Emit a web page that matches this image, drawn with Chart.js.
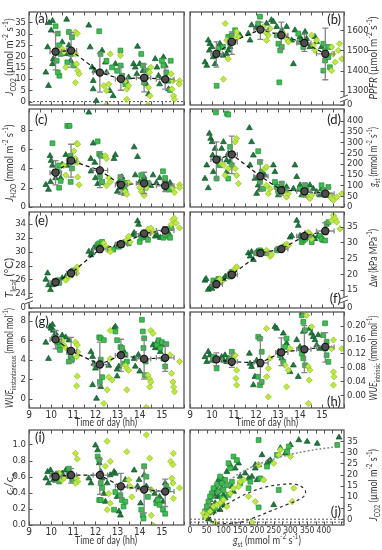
<!DOCTYPE html>
<html><head><meta charset="utf-8">
<script src="https://cdn.jsdelivr.net/npm/chart.js@4.4.0/dist/chart.umd.min.js"></script>
<style>
html,body{margin:0;padding:0;background:#fff;}
#wrap{position:relative;width:382px;height:550px;background:#fff;}
#wrap canvas{position:absolute;left:0;top:0;}
</style></head><body><div id="wrap"></div>
<script>
// ---------------- DATA ----------------
const TIME_TICKS = [9,10,11,12,13,14,15];
const TIME_LABELS = ['9','10','11','12','13','14','15'];
const TIME_MARKS = [9,9.5,10,10.5,11,11.5,12,12.5,13,13.5,14,14.5,15,15.5,16];
const MEAN_T = [10.2,10.9,12.2,13.15,14.2,15.15];
const MEAN_T_LO = [9.95,10.7,11.9,12.9,13.85,14.75];
const MEAN_T_HI = [10.47,11.15,12.55,13.45,14.5,15.55];

// (a) J_CO2
const A_TRI = [[9.91,34.7],[10.06,35.6],[10.7,36.2],[9.84,24],[9.76,12.9],[9.88,7],[10.0,31.4],[10.06,16.6],[10.1,18.8],[10.5,26.2],[10.66,21],[10.8,24.8],[10.88,18],[11.7,33.6],[11.76,24],[11.85,15.1],[11.9,9.2],[11.9,5.5],[11.97,13.6],[12.04,0.3],[12.3,22.5],[12.45,17.3],[12.5,12.9],[12.65,4.8],[12.8,2.5],[12.9,16.6],[13.42,8.4],[13.5,10.7],[13.72,16.6],[13.8,15.1],[13.87,12.2],[13.9,24.3],[14.0,16.6],[14.15,13.6],[14.3,7.7],[14.4,3.3],[14.7,18.8],[14.78,15.1],[14.85,11.4],[14.9,7.7],[15.07,19.6],[15.15,15.9],[15.2,10.7],[15.3,5.5]];
const A_SQ = [[10.2,33.2],[10.3,30],[10.36,24.8],[10.43,21],[10.25,18],[10.37,11.4],[10.3,12.9],[10.8,30.7],[10.94,28.4],[10.9,21],[10.73,17.3],[11.03,15.9],[12.17,31],[12.23,21],[12.5,18],[12.75,15.1],[12.98,13.6],[13.13,22.5],[13.2,11.4],[13.3,9.2],[13.35,7.7],[13.14,15.9],[14.07,21],[14.15,15.9],[14.27,10.7],[14.37,13.6],[14.2,8.4],[15.0,18],[15.07,15.9],[15.2,12.9],[15.3,9.2],[15.37,5.1],[15.4,18]];
const A_DIA = [[10.5,23.3],[10.57,21.8],[10.66,15.1],[10.94,22.5],[11.1,30.7],[11.18,30],[11.1,21],[11.15,16.6],[11.2,13.6],[11.26,12.2],[11.1,8.4],[12.38,7],[12.5,4.8],[12.6,7.7],[12.67,21],[12.5,-1.5],[13.13,20.3],[13.35,9.2],[13.42,5.5],[13.5,7],[13.42,1],[14.44,12.9],[14.4,6.2],[14.47,2.5],[14.37,-1.5],[14.5,15.1],[15.42,12.2],[15.5,9.2],[15.46,5.5],[15.53,2.5],[15.57,1],[15.8,9.2],[15.78,7.7]];
const A_MEAN = [22,22.5,12.8,10,10.5,9.8];
const A_LO = [14,15.2,4.2,5,4.3,5.5];
const A_HI = [30.4,30.4,21.3,15.3,16.5,15];
const A_YT = [0,5,10,15,20,25,30,35];
const A_YL = ['0','5','10','15','20','25','30','35'];

// (b) PPFR
const B_TRI = [[9.68,1442],[9.76,1425],[9.83,1550],[9.9,1533],[9.88,1500],[10,1517],[10.06,1467],[10.14,1433],[10.36,1533],[10.44,1517],[10.5,1475],[10.66,1483],[10.74,1500],[10.82,1517],[11.27,1575],[11.65,1583],[11.73,1550],[11.8,1625],[12.03,1617],[12.48,1633],[12.7,1650],[12.79,1642],[12.94,1617],[13.17,1600],[13.39,1617],[13.62,1550],[13.7,1433],[13.77,1600],[14.0,1567],[14.08,1550],[14.23,1592],[14.3,1558],[14.45,1517],[14.68,1567],[14.76,1542],[14.98,1517]];
const B_SQ = [[10.21,1325],[10.29,1508],[10.5,1517],[10.74,1567],[10.9,1575],[10.97,1542],[11.05,1600],[12.18,1667],[12.1,1633],[12.26,1600],[12.94,1575],[13.02,1533],[13.1,1500],[13.06,1342],[13.17,1517],[13.92,1583],[14.0,1542],[14.15,1517],[15.06,1533],[15.14,1500],[15.14,1450],[15.06,1400],[15.29,1517],[15.29,1467],[15.36,1417]];
const B_DIA = [[10.52,1358],[10.6,1633],[10.67,1550],[10.74,1458],[11.12,1592],[11.2,1567],[11.05,1558],[12.33,1617],[12.41,1592],[12.48,1550],[12.56,1575],[12.64,1608],[13.24,1583],[13.39,1558],[13.47,1542],[14.53,1575],[14.6,1525],[14.68,1500],[14.76,1550],[15.44,1517],[15.5,1483],[15.6,1442],[15.44,1400],[15.74,1500],[15.9,1458],[15.8,1533]];
const B_MEAN = [1483,1542,1603,1575,1537,1483];
const B_LO = [1417,1480,1555,1505,1495,1355];
const B_HI = [1542,1592,1640,1640,1580,1610];
const B_YT = [1230,1300,1400,1500,1600];
const B_YL = ['0','1300','1400','1500','1600'];

// (c) J_H2O
const C_TRI = [[9.76,2.3],[9.88,1.8],[9.95,5.3],[10.0,4.8],[9.97,2.6],[10.06,4.3],[10.1,3.6],[10.2,3.0],[10.43,3.0],[10.5,4.4],[10.66,5.4],[10.73,4.3],[10.8,5.0],[11.7,9.8],[11.79,5.0],[11.9,6.6],[11.97,4.6],[11.8,3.7],[12.0,3.0],[12.1,2.4],[12.24,2.5],[12.84,5.0],[12.9,5.4],[12.99,1.6],[13.06,2.6],[13.1,2.0],[13.2,3.1],[13.3,1.4],[13.75,6.2],[13.9,5.2],[13.8,3.3],[14.0,2.6],[14.2,3.1],[14.3,2.5],[14.5,2.2],[14.6,3.3],[14.75,2.5],[14.9,3.0],[15.15,2.8],[15.2,1.8],[15.37,2.5]];
const C_SQ = [[10.06,6.6],[10.3,3.7],[10.36,4.3],[10.43,2.7],[10.36,2.0],[10.73,8.4],[10.83,8.4],[10.88,5.3],[10.94,4.0],[11.03,4.7],[10.88,2.6],[12.1,6.8],[12.17,5.5],[12.24,5.3],[12.2,3.2],[12.3,2.6],[13.13,3.1],[13.2,2.6],[13.3,2.0],[13.35,1.6],[13.42,2.5],[14.07,3.3],[14.15,2.6],[14.27,2.0],[14.37,2.5],[15.05,3.7],[15.15,3.0],[15.25,2.2],[15.33,1.8]];
const C_DIA = [[10.57,4.3],[10.66,3.3],[11.03,5.8],[11.15,6.6],[11.2,6.5],[11.1,5.0],[11.18,4.6],[11.2,3.1],[11.26,2.3],[12.45,5.3],[12.5,5.0],[12.6,3.0],[12.67,2.6],[12.5,2.2],[13.35,1.6],[13.42,1.3],[13.5,2.5],[14.0,2.0],[14.07,1.6],[14.15,1.4],[14.2,1.2],[14.3,2.0],[15.5,2.0],[15.57,1.5],[15.8,2.3],[15.8,2.0]];
const C_MEAN = [3.56,4.8,3.8,2.3,2.45,2.2];
const C_LO = [2.3,3.1,2.0,1.3,1.4,1.6];
const C_HI = [4.8,6.5,5.7,3.2,3.6,2.8];
const C_YT = [0,2,4,6,8];
const C_YL = ['0','2','4','6','8'];

// (d) g_st
const D_TRI = [[9.68,132],[9.76,194],[9.83,88],[9.88,341],[9.94,318],[10,302],[10.03,240],[10.06,163],[10.14,271],[10.44,271],[10.52,302],[10.67,163],[10.67,217],[10.74,248],[10.82,209],[11.7,367],[11.73,194],[11.8,302],[11.88,240],[11.95,132],[12.03,62],[12.1,101],[12.18,85],[12.4,147],[12.79,194],[12.86,163],[12.94,101],[13.02,55],[13.24,85],[13.39,93],[13.7,85],[13.77,194],[13.85,140],[14,101],[14.08,55],[14.23,78],[14.3,55],[14.45,101],[14.6,85],[14.76,70],[14.9,55],[14.98,85]];
const D_SQ = [[10.18,439],[10.29,225],[10.21,132],[10.36,194],[10.67,434],[10.74,429],[10.82,279],[10.9,194],[10.74,132],[12.1,259],[12.18,209],[12.26,163],[12.18,116],[12.33,85],[12.86,116],[12.94,93],[13.02,70],[13.17,109],[13.32,78],[14,85],[14.15,62],[14.23,101],[14.3,78],[14.98,101],[15.06,78],[15.18,62],[15.29,93],[15.36,55]];
const D_DIA = [[10.44,201],[10.52,194],[10.59,147],[10.74,178],[11.05,302],[11.12,318],[11.05,178],[11.12,147],[11.2,109],[12.4,178],[12.48,186],[12.48,101],[12.56,62],[12.64,85],[13.24,70],[13.39,46],[13.47,62],[14.38,46],[14.45,39],[14.53,55],[15.36,55],[15.44,39],[15.52,31],[15.67,46],[15.9,62]];
const D_MEAN = [220,244,143,78,73,62];
const D_LO = [132,155,73,55,47,45];
const D_HI = [302,329,217,115,112,90];
const D_YT = [0,50,100,150,200,250,300,350,400];
const D_YL = ['0','50','100','150','200','250','300','350','400'];

// (e) T_leaf
const E_TRI = [[9.76,26.0],[9.84,26.9],[9.88,25.2],[9.97,24.5],[10.06,25.2],[10.1,25.7],[10.5,26.2],[10.66,26.4],[10.8,26.6],[10.88,27.1],[11.7,30.0],[11.79,29.5],[11.85,29.8],[11.93,30.5],[12.0,30.7],[12.24,31.0],[12.9,30.7],[12.99,31.0],[13.13,31.2],[13.7,32.4],[13.75,32.7],[13.9,34.4],[13.95,33.9],[14.04,32.4],[14.33,32.0],[14.7,32.2],[14.78,32.4],[14.93,32.0],[15.2,32.4],[15.3,32.7]];
const E_SQ = [[10.2,25.7],[10.3,25.9],[10.36,25.5],[10.88,26.6],[10.94,27.1],[11.03,27.3],[12.1,31.0],[12.17,31.2],[12.24,30.7],[12.3,31.4],[12.8,30.3],[13.06,30.7],[13.2,31.0],[13.35,31.4],[13.5,31.2],[14.0,31.4],[14.07,32.0],[14.15,32.2],[14.2,32.4],[14.37,31.7],[15.07,32.0],[15.15,32.4],[15.3,32.2],[15.37,32.0],[15.42,33.4]];
const E_DIA = [[10.66,25.9],[10.8,26.4],[11.1,27.3],[11.18,27.8],[11.15,26.9],[12.38,31.2],[12.45,30.7],[12.53,30.3],[12.6,30.5],[12.67,30.0],[13.42,31.7],[13.5,32.2],[13.57,31.4],[14.37,33.2],[14.45,32.7],[14.5,33.4],[14.6,32.9],[15.42,33.9],[15.5,34.6],[15.57,34.8],[15.65,34.1],[15.8,33.4]];
const E_MEAN = [25.6,26.9,30.35,31.07,32.6,33.05];
const E_LO = [25.2,26.5,30.0,30.7,32.1,32.5];
const E_HI = [26.0,27.3,30.7,31.4,33.1,33.6];
const E_YT = [21.9,24,26,28,30,32,34];
const E_YL = ['0','24','26','28','30','32','34'];

// (f) delta w
const F_TRI = [[9.68,18.0],[9.73,18.5],[9.83,15.1],[9.91,15.8],[10,15.4],[10.06,17.1],[10.52,18.4],[10.6,19.2],[10.74,19.8],[10.82,20.0],[11.65,26.6],[11.73,25.6],[11.8,27.0],[11.88,24.5],[12.03,27.0],[13.09,27.5],[13.24,28.5],[13.55,31.6],[13.62,32.1],[13.85,36.9],[13.92,35.3],[14,32.1],[14.08,31.6],[14.23,32.7],[14.6,31.6],[14.68,31.1],[14.83,32.1],[14.98,31.6],[15.06,30.6]];
const F_SQ = [[10.06,18],[10.14,16.5],[10.21,17.6],[10.29,18.5],[10.82,19.2],[10.9,20.7],[10.97,20.2],[12.03,26.6],[12.18,27.5],[12.26,27.0],[12.48,26.6],[12.94,27.5],[13.02,28.0],[13.24,28.5],[13.39,29.0],[14.08,30.1],[14.15,30.6],[14.23,31.1],[14.45,31.6],[14.53,30.1],[14.9,32.1],[14.98,31.1],[15.14,30.6],[15.21,35.8],[15.29,36.4]];
const F_DIA = [[10.36,18.4],[10.44,17.6],[10.97,20.7],[11.05,21.7],[11.12,22.3],[12.48,27.5],[12.56,26.6],[12.64,25.6],[12.71,26.1],[13.32,28.5],[13.39,29.5],[13.47,29.0],[14.3,32.1],[14.38,33.2],[14.45,32.7],[14.53,31.1],[15.44,36.9],[15.52,38.5],[15.6,37.5],[15.67,36.4],[15.82,34.3]];
const F_MEAN = [16.8,19.8,26.6,27.9,32.0,33.6];
const F_LO = [16.2,19.2,25.8,27.3,31.2,32.5];
const F_HI = [17.5,20.4,27.4,28.5,32.8,36.2];
const F_YT = [9.3,15,20,25,30,35];
const F_YL = ['0','15','20','25','30','35'];

// (g) WUE instantaneous
const G_TRI = [[9.76,5.77],[9.88,4.1],[9.95,7.4],[10.0,7.2],[10.06,7.6],[10.1,7.0],[10.2,6.7],[10.43,5.8],[10.5,6.5],[10.66,6.3],[10.8,6.0],[11.8,4.8],[11.87,4.3],[11.93,3.6],[12.0,3.1],[11.87,1.4],[12.05,0.0],[12.24,1.2],[12.6,3.4],[12.84,7.2],[12.9,7.4],[12.98,3.0],[13.06,3.3],[12.98,2.3],[13.3,4.8],[13.75,4.1],[13.8,3.3],[13.94,4.5],[14.0,2.8],[14.17,4.0],[14.6,5.5],[14.7,5.2],[14.78,5.8],[14.85,5.3],[14.93,4.8],[15.0,5.5]];
const G_SQ = [[10.12,6.2],[10.27,5.8],[10.36,5.3],[10.4,5.0],[10.8,4.8],[10.88,4.3],[10.94,4.0],[10.8,3.8],[12.17,6.3],[12.24,6.2],[12.38,6.0],[12.2,1.7],[12.3,2.2],[12.24,4.0],[12.9,6.9],[12.98,6.0],[13.13,5.3],[13.2,5.2],[13.35,4.5],[13.3,3.6],[13.42,3.8],[14.1,8.1],[14.14,6.9],[14.2,6.2],[14.17,5.2],[14.27,3.8],[14.23,2.4],[14.78,5.5],[14.85,6.0],[14.93,5.2],[15.0,5.8],[15.07,4.1],[15.15,3.3],[15.2,5.6]];
const G_DIA = [[10.5,6.0],[10.57,5.5],[10.66,5.2],[11.1,5.8],[11.18,5.5],[11.2,4.8],[11.15,4.3],[11.18,2.3],[11.15,1.3],[12.38,-0.5],[12.53,0.9],[12.6,2.2],[12.67,7.0],[12.75,1.9],[12.67,4.1],[13.35,3.4],[13.42,3.1],[13.42,0.9],[13.5,2.9],[14.3,-0.9],[14.37,2.4],[14.45,2.0],[14.5,1.7],[14.45,1.2],[14.5,7.0],[14.6,6.7],[15.37,4.5],[15.44,2.6],[15.5,1.7],[15.53,1.2],[15.57,0.7],[15.8,3.8]];
const G_MEAN = [6.08,4.9,3.5,4.46,4.08,4.19];
const G_LO = [5.1,3.7,1.3,2.8,2.0,2.8];
const G_HI = [7.0,6.3,5.8,6.1,6.2,5.6];
const G_YT = [0,2,4,6,8];
const G_YL = ['0','2','4','6','8'];

// (h) WUE intrinsic
const H_TRI = [[9.68,0.11],[9.76,0.096],[9.83,0.125],[9.91,0.115],[10,0.1],[10.44,0.11],[10.52,0.1],[10.59,0.115],[10.67,0.096],[10.74,0.106],[11.7,0.12],[11.73,0.091],[11.8,0.082],[11.88,0.029],[12.03,0.1],[11.95,0.053],[12.18,0.086],[12.86,0.197],[12.94,0.192],[13.02,0.125],[13.17,0.106],[13.24,0.178],[13.39,0.149],[13.55,0.067],[13.7,0.086],[13.85,0.159],[14,0.139],[13.92,0.053],[14.15,0.183],[14.45,0.192],[14.53,0.178],[14.6,0.168],[14.68,0.159],[14.76,0.144],[14.83,0.173],[14.9,0.134]];
const H_SQ = [[10.06,0.11],[10.14,0.1],[10.21,0.077],[10.82,0.106],[10.9,0.125],[12.1,0.168],[12.18,0.163],[12.26,0.125],[12.1,0.053],[12.18,0.029],[12.26,0.038],[13.09,0.115],[13.24,0.096],[13.32,0.139],[13.39,0.163],[14.08,0.23],[14.15,0.211],[14.23,0.187],[14.08,0.12],[14.15,0.106],[14.23,0.086],[15.06,0.173],[15.14,0.207],[15.21,0.154],[15.14,0.134],[15.21,0.115],[15.29,0.096]];
const H_DIA = [[10.97,0.106],[11.05,0.115],[11.12,0.072],[11.09,0.048],[11.12,0.029],[12.48,0.192],[12.56,0.077],[12.48,0.053],[12.56,-0.005],[12.64,0.106],[13.32,0.086],[13.39,0.024],[13.47,0.072],[13.55,0.134],[14.3,0.23],[14.38,0.082],[14.45,0.072],[14.42,0.043],[14.38,-0.024],[14.53,0.197],[15.52,0.159],[15.44,0.134],[15.52,0.067],[15.55,0.053],[15.52,0.029],[15.9,0.134]];
const H_MEAN = [0.103,0.096,0.093,0.123,0.132,0.139];
const H_LO = [0.085,0.08,0.035,0.085,0.065,0.095];
const H_HI = [0.122,0.12,0.165,0.165,0.2,0.18];
const H_YT = [0,0.04,0.08,0.12,0.16,0.2];
const H_YL = ['0.00','0.04','0.08','0.12','0.16','0.20'];

// (i) ci/ca
const I_TRI = [[9.76,0.58],[9.84,0.66],[9.88,0.52],[9.97,0.68],[10.06,0.62],[10.1,0.56],[10.5,0.64],[10.66,0.68],[10.73,0.6],[10.8,0.66],[11.7,0.58],[11.8,0.52],[12.0,0.99],[12.1,0.93],[12.17,0.77],[12.24,0.66],[12.3,0.58],[12.38,0.39],[12.45,0.29],[12.53,0.52],[12.67,0.62],[12.84,0.66],[12.9,0.64],[12.98,0.35],[13.06,0.17],[13.13,0.12],[13.35,0.56],[13.75,0.68],[13.9,0.48],[13.97,0.56],[14.04,0.27],[14.2,0.62],[14.3,0.48],[14.67,0.39],[14.75,0.31],[14.9,0.35],[15.05,0.29],[15.15,0.52]];
const I_SQ = [[10.2,0.6],[10.3,0.64],[10.36,0.54],[10.43,0.6],[10.8,0.7],[10.88,0.64],[10.95,0.56],[12.1,0.85],[12.17,0.81],[12.24,0.52],[12.17,0.31],[12.24,0.31],[12.3,0.46],[12.9,0.41],[13.13,0.37],[13.2,0.31],[13.27,0.23],[13.35,0.29],[12.84,0.19],[14.07,0.19],[14.14,0.12],[14.17,0.08],[14.2,0.73],[14.3,0.6],[14.37,0.35],[14.75,0.27],[14.82,0.31],[14.9,0.25],[15.05,0.19],[15.15,0.14],[15.2,0.48],[15.27,0.44]];
const I_DIA = [[10.36,0.64],[10.5,0.56],[10.57,0.58],[11.1,0.89],[11.18,0.82],[11.15,0.58],[11.2,0.54],[11.1,0.52],[12.53,1.04],[12.67,0.79],[12.45,0.73],[12.6,0.39],[12.67,0.27],[12.53,0.19],[13.42,0.91],[13.5,0.56],[13.57,0.48],[13.64,0.35],[14.3,1.12],[14.45,0.83],[14.52,0.44],[14.52,0.12],[14.6,0.0],[15.4,0.79],[15.5,0.75],[15.52,0.89],[15.45,0.58],[15.5,0.52],[15.52,0.33],[15.8,0.46]];
const I_MEAN = [0.6,0.62,0.62,0.48,0.44,0.415];
const I_LO = [0.53,0.52,0.38,0.33,0.15,0.23];
const I_HI = [0.65,0.7,0.82,0.64,0.72,0.57];
const I_YT = [0,0.2,0.4,0.6,0.8,1.0];
const I_YL = ['0.0','0.2','0.4','0.6','0.8','1.0'];

// (j) J_CO2 vs g_st
const J_TRI = [[325,35.5],[350,34.8],[380,33.9],[445,36.7],[300,33.3],[285,29.5],[270,31.9],[240,26.5],[235,25.8],[230,25.1],[215,28.8],[205,24.3],[195,24.3],[175,18.3],[165,20.6],[145,25.1],[135,22.8],[120,24.3],[110,21.3],[100,17.6],[95,13.9],[90,16.1],[85,10.2],[80,13.1],[75,7.2],[70,11.6],[65,5.7],[60,8.7],[55,2.7],[55,0],[250,6.4],[195,22.8],[150,19.1],[200,17.6],[185,19.1],[130,12.4],[125,14.6],[105,9.4],[100,6.4],[90,4.2],[70,3.5],[75,10.2],[85,17.6],[100,10.9]];
const J_SQ = [[205,35.5],[440,33.3],[295,32.6],[290,30.4],[260,28.8],[230,23.6],[210,18.3],[205,5.3],[265,13.1],[130,28.1],[115,25.1],[140,26.5],[120,22.8],[105,17.6],[95,16.1],[90,19.1],[80,15.3],[70,13.9],[65,11.6],[60,10.2],[55,7.9],[50,5.7],[45,3.5],[85,12.4],[100,13.1],[110,15.3],[125,16.8],[150,16.1],[175,13.9],[115,10.9],[95,9.4],[75,4.9],[60,3.5],[180,16.8]];
const J_DIA = [[265,28.8],[270,31.1],[300,28.1],[250,25.1],[205,24.3],[160,17.6],[150,16.8],[145,14.6],[120,11.6],[100,8.7],[90,7.2],[70,5.7],[60,3.5],[50,2],[45,1.2],[40,2.7],[195,7.9],[310,13.9],[305,7.9],[185,-1.5],[75,-1.8],[220,17.6],[175,10.2],[130,13.9],[110,5.7],[80,6.4]];
const J_CURVE = [[38,0],[50,4.5],[70,9.5],[100,15],[130,18.8],[170,22.3],[220,25.5],[280,28.3],[350,30.6],[440,32.6]];
const J_ELLIPSE = [[55,0],[85,4],[125,8],[175,11.8],[225,14.4],[275,15.6],[315,15.6],[340,13.8],[345,11.5],[330,9.2],[290,6.6],[240,3.6],[190,0.6],[145,-1.5],[100,-2],[70,-1.3],[55,0]];
const J_XT = [0,50,100,150,200,250,300,350,400];
const J_XL = ['0','50','100','150','200','250','300','350','400'];
const J_XMARKS = [0,25,50,75,100,125,150,175,200,225,250,275,300,325,350,375,400,425,450];
const J_YT = [0,5,10,15,20,25,30,35];
const J_YL = ['0','5','10','15','20','25','30','35'];

// ---------------- RENDER ----------------
const FONT = "Lato, 'Open Sans', sans-serif";
const TICK_FONT = "'Liberation Sans Narrow', 'DejaVu Sans Condensed', Lato, sans-serif";
Chart.defaults.font.family = FONT;
const W = 382, H = 550;
const ROWS = [[12,105],[109,207],[212,308],[312,408],[430,525]];
const TXT = '#333';

function xy(a){ return a.map(p => ({x:p[0], y:p[1]})); }

function drawRich(ctx, segs, cx, cy, rot, size, target) {
  ctx.save();
  const parts = []; let total = 0;
  segs.forEach(s => {
    const kind = s[1] || '';
    const small = kind.indexOf('sub') >= 0 || kind.indexOf('sup') >= 0;
    const sz = small ? size * 0.68 : size;
    const f = (kind.indexOf('i') === 0 ? 'italic ' : '') + sz + 'px ' + FONT;
    ctx.font = f;
    const w = ctx.measureText(s[0]).width;
    let dy = 0;
    if (kind.indexOf('sub') >= 0) dy = size * 0.32;
    if (kind.indexOf('sup') >= 0) dy = -size * 0.38;
    parts.push({t:s[0], f, w, dy}); total += w;
  });
  const sx = target ? target / total : 1;
  ctx.translate(cx, cy);
  if (rot) ctx.rotate(-Math.PI / 2);
  ctx.scale(sx, 1);
  ctx.fillStyle = '#3a3a3a';
  ctx.textBaseline = 'middle';
  ctx.textAlign = 'left';
  let x = -total / 2;
  parts.forEach(p => { ctx.font = p.f; ctx.fillText(p.t, x, p.dy); x += p.w; });
  ctx.restore();
}

function makeDeco(p, leftCol) {
  return {
    id: 'deco',
    beforeDatasetDraw(chart, args) {
      const ds = chart.data.datasets[args.index];
      if (!ds.isMean) return;
      const ctx = chart.ctx, xs = chart.scales.x, ys = chart.scales.y;
      ctx.save(); ctx.strokeStyle = '#858585'; ctx.lineWidth = 1.3; ctx.setLineDash([]);
      ctx.beginPath();
      for (let i = 0; i < MEAN_T.length; i++) {
        const px = xs.getPixelForValue(MEAN_T[i]), py = ys.getPixelForValue(p.mean[i]);
        const y1 = ys.getPixelForValue(p.lo[i]), y2 = ys.getPixelForValue(p.hi[i]);
        const x1 = xs.getPixelForValue(MEAN_T_LO[i]), x2 = xs.getPixelForValue(MEAN_T_HI[i]);
        ctx.moveTo(px, y1); ctx.lineTo(px, y2);
        ctx.moveTo(px - 3, y1); ctx.lineTo(px + 3, y1);
        ctx.moveTo(px - 3, y2); ctx.lineTo(px + 3, y2);
        ctx.moveTo(x1, py); ctx.lineTo(x2, py);
        ctx.moveTo(x1, py - 2.5); ctx.lineTo(x1, py + 2.5);
        ctx.moveTo(x2, py - 2.5); ctx.lineTo(x2, py + 2.5);
      }
      ctx.stroke(); ctx.restore();
    },
    afterDraw(chart) {
      const ctx = chart.ctx, ca = chart.chartArea, xs = chart.scales.x, ys = chart.scales.y;
      ctx.save();
      ctx.strokeStyle = '#555'; ctx.lineWidth = 1.3; ctx.setLineDash([]);
      ctx.strokeRect(ca.left, ca.top, ca.right - ca.left, ca.bottom - ca.top);
      ctx.beginPath();
      (p.xmarks || TIME_MARKS).forEach(v => {
        const px = Math.round(xs.getPixelForValue(v)) + 0.5;
        ctx.moveTo(px, ca.bottom); ctx.lineTo(px, ca.bottom - 3.5);
        ctx.moveTo(px, ca.top); ctx.lineTo(px, ca.top + 3.5);
      });
      p.yt.forEach(v => {
        const py = Math.round(ys.getPixelForValue(v)) + 0.5;
        if (leftCol) { ctx.moveTo(ca.left, py); ctx.lineTo(ca.left + 3.5, py); }
        else { ctx.moveTo(ca.right, py); ctx.lineTo(ca.right - 3.5, py); }
      });
      ctx.lineWidth = 1; ctx.stroke();
      if (p.brk !== undefined) {
        const py = ys.getPixelForValue(p.brk);
        const bx = leftCol ? ca.left : ca.right;
        ctx.fillStyle = '#fff'; ctx.fillRect(bx - 3, py - 2, 6, 4);
        ctx.strokeStyle = '#555'; ctx.lineWidth = 1;
        ctx.beginPath();
        ctx.moveTo(bx - 4, py - 0.5); ctx.lineTo(bx + 4, py - 3.5);
        ctx.moveTo(bx - 4, py + 3.5); ctx.lineTo(bx + 4, py + 0.5);
        ctx.stroke();
      }
      ctx.fillStyle = '#222'; ctx.font = '13px ' + FONT; ctx.textBaseline = 'middle';
      ctx.textAlign = p.letter[3]; ctx.fillText(p.letter[0], p.letter[1], p.letter[2]);
      ctx.restore();
      const yt = p.ytitle;
      drawRich(ctx, yt.segs, leftCol ? 10 : 374, yt.cy, true, 10.5, yt.len);
      if (p.xtitle) drawRich(ctx, p.xtitle.segs, p.xtitle.cx, p.xtitle.cy, false, 10.5, p.xtitle.len);
    }
  };
}

function scatterDs(d, style, r, bg, bd, order) {
  return {data: xy(d), pointStyle: style, pointRadius: r, backgroundColor: bg, borderColor: bd,
          pointBorderWidth: 0.7, borderWidth: 0.7, showLine: false, order: order};
}

function makePanel(p) {
  const cv = document.createElement('canvas');
  cv.width = W; cv.height = H; cv.style.width = W + 'px'; cv.style.height = H + 'px';
  document.getElementById('wrap').appendChild(cv);
  const leftCol = p.col === 0;
  const L = leftCol ? 29 : 190, R = leftCol ? 184 : 344;
  const T = ROWS[p.row][0], B = ROWS[p.row][1];
  const YW = 26, XH = p.xt ? 14 : 0;
  const pad = {top: T, bottom: H - B - XH, left: leftCol ? L - YW : L, right: leftCol ? W - R : W - R - YW};
  const ds = [];
  (p.lines || []).forEach(l => ds.push({data: xy(l.d), showLine: true, borderColor: l.c, borderWidth: l.w,
      borderDash: l.dash, pointRadius: 0, tension: l.t || 0, fill: false, order: l.o}));
  ds.push(scatterDs(p.tri, 'triangle', 3.4, '#1d7a3b', '#11552a', 4));
  ds.push(scatterDs(p.sq, 'rect', 3.4, '#3dbd4e', '#24893a', 3));
  ds.push(scatterDs(p.dia, 'rectRot', 3.1, '#bde843', '#8fc021', 2));
  if (p.mean) {
    const md = MEAN_T.map((t, i) => [t, p.mean[i]]);
    ds.push({data: xy(md), showLine: true, borderColor: '#111', borderWidth: 1.2, borderDash: [4, 3],
             pointRadius: 0, fill: false, order: 1});
    ds.push({data: xy(md), showLine: false, pointStyle: 'circle', pointRadius: 3.6, backgroundColor: '#4d4d4d',
             borderColor: '#111', borderWidth: 1.1, isMean: true, order: 0});
  }
  new Chart(cv, {
    type: 'scatter',
    data: {datasets: ds},
    options: {
      responsive: false, animation: false, devicePixelRatio: 1,
      layout: {padding: pad},
      plugins: {legend: {display: false}, tooltip: {enabled: false}},
      scales: {
        x: {type: 'linear', min: p.xmin, max: p.xmax, display: !!p.xt,
            grid: {display: false, drawTicks: false}, border: {display: false},
            ticks: {autoSkip: false, maxRotation: 0, padding: 1, color: TXT, font: {family: TICK_FONT, size: p.xfs || 10},
                    callback: (v, i) => p.xl ? p.xl[i] : ''},
            afterBuildTicks: s => { if (p.xt) s.ticks = p.xt.map(v => ({value: v})); },
            afterFit: s => { s.height = XH; }},
        y: {type: 'linear', position: leftCol ? 'left' : 'right', min: p.ymin, max: p.ymax,
            grid: {display: false, drawTicks: false}, border: {display: false},
            ticks: {autoSkip: false, padding: 3, color: TXT, font: {family: TICK_FONT, size: 9.5},
                    callback: (v, i) => p.yl[i]},
            afterBuildTicks: s => { s.ticks = p.yt.map(v => ({value: v})); },
            afterFit: s => { s.width = YW; }}
      }
    },
    plugins: [makeDeco(p, leftCol)]
  });
}

const UNIT_UMOL = [[' (µmol m',''],['-2','sup'],[' s',''],['-1','sup'],[')','']];
const UNIT_MMOL = [[' (mmol m',''],['-2','sup'],[' s',''],['-1','sup'],[')','']];
const TIME_TITLE = [['Time of day (hh)','']];
const ZERO_TIME = [[9,0],[16,0]];

makePanel({row:0,col:0, tri:A_TRI, sq:A_SQ, dia:A_DIA, mean:A_MEAN, lo:A_LO, hi:A_HI,
  xmin:9, xmax:16, ymin:-1.5, ymax:39.5, yt:A_YT, yl:A_YL,
  lines:[{d:ZERO_TIME, c:'#555', w:1, dash:[2,2], o:6}],
  letter:['(a)',35,19,'left'],
  ytitle:{segs:[['J','i'],['CO','sub'],['2','sub'],...UNIT_UMOL], cy:57, len:77}});
makePanel({row:0,col:1, tri:B_TRI, sq:B_SQ, dia:B_DIA, mean:B_MEAN, lo:B_LO, hi:B_HI,
  xmin:9, xmax:16, ymin:1230, ymax:1690, yt:B_YT, yl:B_YL, brk:1262,
  letter:['(b)',341,20,'right'],
  ytitle:{segs:[['PPFR','i'],...UNIT_UMOL], cy:58, len:83}});
makePanel({row:1,col:0, tri:C_TRI, sq:C_SQ, dia:C_DIA, mean:C_MEAN, lo:C_LO, hi:C_HI,
  xmin:9, xmax:16, ymin:0, ymax:10.15, yt:C_YT, yl:C_YL,
  letter:['(c)',35,120,'left'],
  ytitle:{segs:[['J','i'],['H','sub'],['2','sub'],['O','sub'],...UNIT_MMOL], cy:163, len:77}});
makePanel({row:1,col:1, tri:D_TRI, sq:D_SQ, dia:D_DIA, mean:D_MEAN, lo:D_LO, hi:D_HI,
  xmin:9, xmax:16, ymin:0, ymax:455, yt:D_YT, yl:D_YL,
  letter:['(d)',341,120,'right'],
  ytitle:{segs:[['g','i'],['st','sub'],...UNIT_MMOL], cy:157, len:60}});
makePanel({row:2,col:0, tri:E_TRI, sq:E_SQ, dia:E_DIA, mean:E_MEAN, lo:E_LO, hi:E_HI,
  xmin:9, xmax:16, ymin:21.9, ymax:35.7, yt:E_YT, yl:E_YL, brk:23,
  letter:['(e)',35,221,'left'],
  ytitle:{segs:[['T','i'],['leaf','sub'],[' (°C)','']], cy:278, len:40}});
makePanel({row:2,col:1, tri:F_TRI, sq:F_SQ, dia:F_DIA, mean:F_MEAN, lo:F_LO, hi:F_HI,
  xmin:9, xmax:16, ymin:9.3, ymax:39.6, yt:F_YT, yl:F_YL, brk:12,
  letter:['(f)',341,299,'right'],
  ytitle:{segs:[['Δ',''],['w','i'],[' (kPa MPa',''],['-1','sup'],[')','']], cy:258, len:58}});
makePanel({row:3,col:0, tri:G_TRI, sq:G_SQ, dia:G_DIA, mean:G_MEAN, lo:G_LO, hi:G_HI,
  xmin:9, xmax:16, ymin:-0.97, ymax:8.9, yt:G_YT, yl:G_YL,
  xt:TIME_TICKS, xl:TIME_LABELS,
  letter:['(g)',35,322,'left'],
  ytitle:{segs:[['WUE','i'],['instantaneous','sub'],[' (mmol mol',''],['-1','sup'],[')','']], cy:358, len:100},
  xtitle:{segs:TIME_TITLE, cx:106, cy:423, len:62}});
makePanel({row:3,col:1, tri:H_TRI, sq:H_SQ, dia:H_DIA, mean:H_MEAN, lo:H_LO, hi:H_HI,
  xmin:9, xmax:16, ymin:-0.037, ymax:0.2395, yt:H_YT, yl:H_YL,
  xt:TIME_TICKS, xl:TIME_LABELS,
  letter:['(h)',341,402,'right'],
  ytitle:{segs:[['WUE','i'],['intrinsic','sub'],[' (mmol mol',''],['-1','sup'],[')','']], cy:358, len:85},
  xtitle:{segs:TIME_TITLE, cx:267, cy:423, len:62}});
makePanel({row:4,col:0, tri:I_TRI, sq:I_SQ, dia:I_DIA, mean:I_MEAN, lo:I_LO, hi:I_HI,
  xmin:9, xmax:16, ymin:0, ymax:1.18, yt:I_YT, yl:I_YL,
  xt:TIME_TICKS, xl:TIME_LABELS,
  letter:['(i)',35,438,'left'],
  ytitle:{segs:[['c','i'],['i','sub'],['/',''],['c','i'],['a','sub']], cy:484, len:22},
  xtitle:{segs:TIME_TITLE, cx:106, cy:541, len:62}});
makePanel({row:4,col:1, tri:J_TRI, sq:J_SQ, dia:J_DIA,
  xmin:0, xmax:460, ymin:-2.6, ymax:40, yt:J_YT, yl:J_YL,
  xt:J_XT, xl:J_XL, xmarks:J_XMARKS, xfs:8.5,
  lines:[{d:[[0,0],[460,0]], c:'#555', w:1, dash:[2,2], o:6},
         {d:[[0,-1.3],[460,-1.3]], c:'#555', w:1, dash:[2,2], o:6},
         {d:J_CURVE, c:'#8a8a8a', w:1.5, dash:[2,2], t:0.4, o:1},
         {d:J_ELLIPSE, c:'#333', w:1.2, dash:[3,3], t:0.4, o:1}],
  letter:['(j)',341,512,'right'],
  ytitle:{segs:[['J','i'],['CO','sub'],['2','sub'],...UNIT_UMOL], cy:485, len:72},
  xtitle:{segs:[['g','i'],['st','sub'],...UNIT_MMOL], cx:267, cy:541, len:68}});
</script></body></html>
